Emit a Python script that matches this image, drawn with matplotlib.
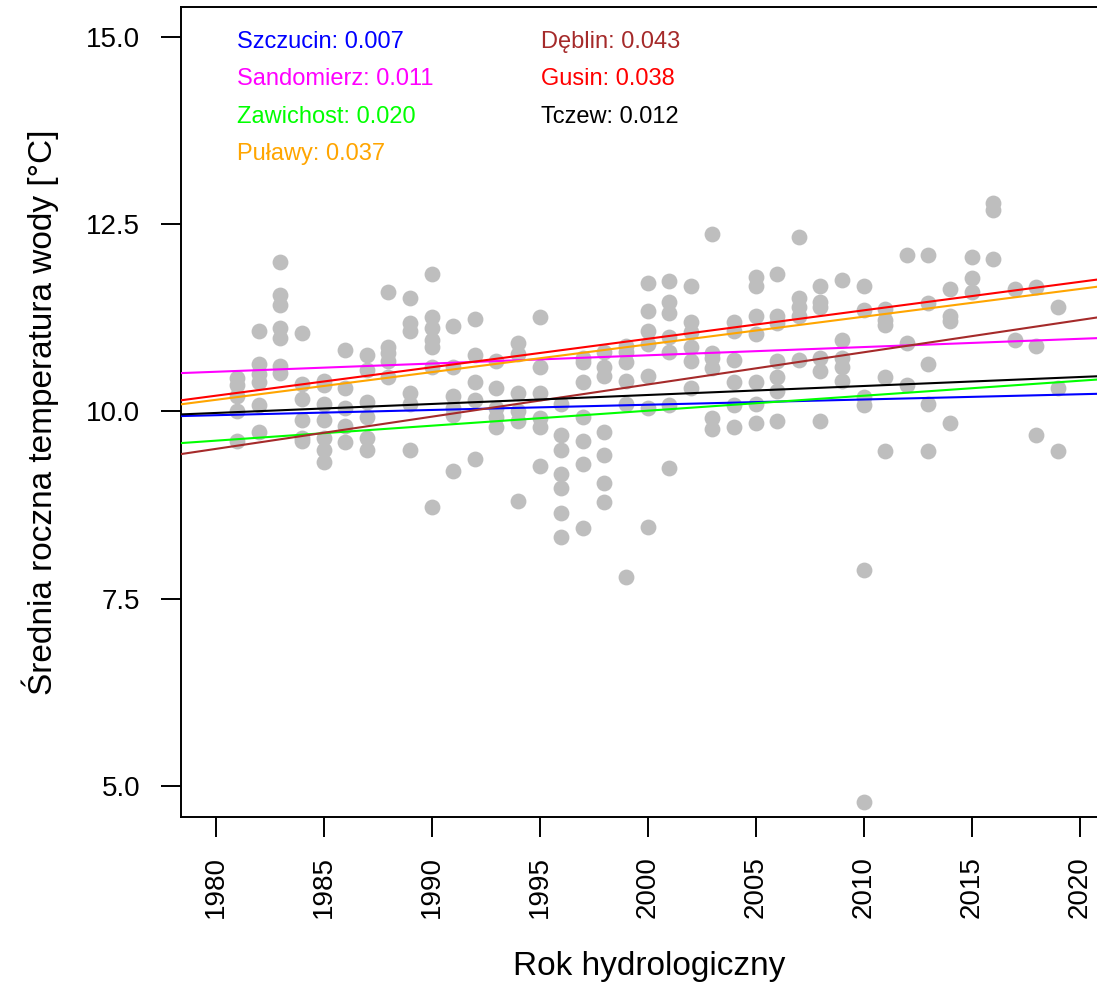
import matplotlib
matplotlib.use("Agg")
import matplotlib.pyplot as plt
import numpy as np

plt.rcParams['font.family'] = ['Liberation Sans', 'DejaVu Sans']

# Observed annual mean water temperatures (all stations pooled), per hydrological year
years = list(range(1981, 2020))
temps_by_year = [
    [10.45, 10.35, 10.2, 10.0, 9.6],                    # 1981
    [11.08, 10.64, 10.5, 10.39, 10.09, 9.73],           # 1982
    [12.0, 11.55, 11.42, 11.11, 10.98, 10.61, 10.52],   # 1983
    [11.05, 10.37, 10.16, 9.88, 9.65, 9.6],             # 1984
    [10.41, 10.35, 10.1, 9.88, 9.65, 9.48, 9.32],       # 1985
    [10.82, 10.32, 10.05, 9.81, 9.59],                  # 1986
    [10.76, 10.55, 10.12, 9.92, 9.64, 9.48],            # 1987
    [11.6, 10.86, 10.78, 10.68, 10.46],                 # 1988
    [11.51, 11.18, 11.08, 10.24, 10.1, 9.48],           # 1989
    [11.84, 11.26, 11.11, 10.95, 10.86, 10.59, 8.72],   # 1990
    [11.14, 10.59, 10.21, 10.05, 9.95, 9.21],           # 1991
    [11.23, 10.75, 10.39, 10.15, 9.36],                 # 1992
    [10.68, 10.32, 10.05, 9.92, 9.79],                  # 1993
    [10.92, 10.77, 10.25, 10.01, 9.87, 8.81],           # 1994
    [11.26, 10.59, 10.24, 9.91, 9.79, 9.27],            # 1995
    [10.1, 9.68, 9.48, 9.17, 8.98, 8.64, 8.33],         # 1996
    [10.72, 10.66, 10.39, 9.93, 9.61, 9.3, 8.45],       # 1997
    [10.79, 10.59, 10.48, 9.72, 9.42, 9.04, 8.79],      # 1998
    [10.88, 10.8, 10.66, 10.41, 10.1, 7.79],            # 1999
    [11.71, 11.34, 11.08, 10.9, 10.48, 10.04, 8.46],    # 2000
    [11.74, 11.46, 11.31, 10.99, 10.79, 10.08, 9.25],   # 2001
    [11.68, 11.19, 11.06, 10.86, 10.68, 10.31],         # 2002
    [12.37, 10.78, 10.71, 10.58, 9.91, 9.77],           # 2003
    [11.19, 11.08, 10.69, 10.39, 10.09, 9.79],          # 2004
    [11.79, 11.68, 11.28, 11.04, 10.39, 10.1, 9.84],    # 2005
    [11.84, 11.28, 11.18, 10.68, 10.46, 10.28, 9.87],   # 2006
    [12.33, 11.51, 11.39, 11.28, 10.69],                # 2007
    [11.68, 11.46, 11.39, 10.72, 10.54, 9.87],          # 2008
    [11.75, 10.95, 10.72, 10.59, 10.41],                # 2009
    [11.68, 11.35, 10.19, 10.08, 7.88, 4.78],           # 2010
    [11.37, 11.22, 11.15, 10.46, 9.47],                 # 2011
    [12.09, 10.91, 10.36],                              # 2012
    [12.09, 11.45, 10.64, 10.1, 9.47],                  # 2013
    [11.63, 11.27, 11.21, 9.84],                        # 2014
    [12.06, 11.78, 11.59],                              # 2015
    [12.78, 12.69, 12.03],                              # 2016
    [11.63, 10.96],                                     # 2017
    [11.66, 10.88, 9.68],                               # 2018
    [11.39, 10.32, 9.47],                               # 2019
]

# Linear trends per station: slope [°C/year] and fitted level at year 2000
stations = ["Szczucin", "Sandomierz", "Zawichost", "Puławy", "Dęblin", "Gusin", "Tczew"]
slopes = [0.007, 0.011, 0.020, 0.037, 0.043, 0.038, 0.012]
level_2000 = [10.09, 10.75, 10.01, 10.895, 10.36, 10.97, 10.22]
colors = ["#0000FF", "#FF00FF", "#00FF00", "#FFA500", "#A52A2A", "#FF0000", "#000000"]

W, H = 1097, 985
fig = plt.figure(figsize=(W / 100, H / 100), dpi=100)
ax_left, ax_right, ax_top, ax_bot = 181, 1097, 7, 817
ax = fig.add_axes([ax_left / W, 1 - ax_bot / H, (ax_right - ax_left) / W, (ax_bot - ax_top) / H])

xs = np.concatenate([[y] * len(t) for y, t in zip(years, temps_by_year)])
ys = np.concatenate(temps_by_year)
ax.scatter(xs, ys, s=130, color="#BEBEBE", linewidths=0, zorder=2)

ax.set_xlim(1978.40, 2020.81)
ax.set_ylim(4.586, 15.40)

xl = np.array(ax.get_xlim())
for slope, lev, col in zip(slopes, level_2000, colors):
    ax.plot(xl, lev + slope * (xl - 2000), color=col, lw=1.5, zorder=3)

# station labels with slopes
col_x = [0.0611, 0.0611, 0.0611, 0.0611, 0.393, 0.393, 0.393]
row_y = [0.9494, 0.9037, 0.8574, 0.8117, 0.9494, 0.9037, 0.8574]
for name, slope, col, tx, ty in zip(stations, slopes, colors, col_x, row_y):
    ax.text(tx, ty, f"{name}: {slope:.3f}", color=col, fontsize=17,
            transform=ax.transAxes, ha="left", va="baseline")

ax.set_xticks([1980, 1985, 1990, 1995, 2000, 2005, 2010, 2015, 2020])
ax.set_yticks([5.0, 7.5, 10.0, 12.5, 15.0])
ax.set_yticklabels(["5.0", "7.5", "10.0", "12.5", "15.0"])
ax.tick_params(axis="x", labelrotation=90, labelsize=20, length=14.4, width=1.4, pad=14, direction="out")
ax.tick_params(axis="y", labelsize=20, length=14.4, width=1.4, pad=15, direction="out")

for sp in ["left", "bottom", "top"]:
    ax.spines[sp].set_linewidth(1.4)
ax.spines["right"].set_visible(False)

fig.text(40 / W, 1 - 412 / H, "Średnia roczna temperatura wody [°C]", rotation=90,
         ha="center", va="center", fontsize=24)
fig.text(649 / W, 1 - 975 / H, "Rok hydrologiczny", ha="center", va="baseline", fontsize=24)

fig.savefig("out.png", dpi=100)
